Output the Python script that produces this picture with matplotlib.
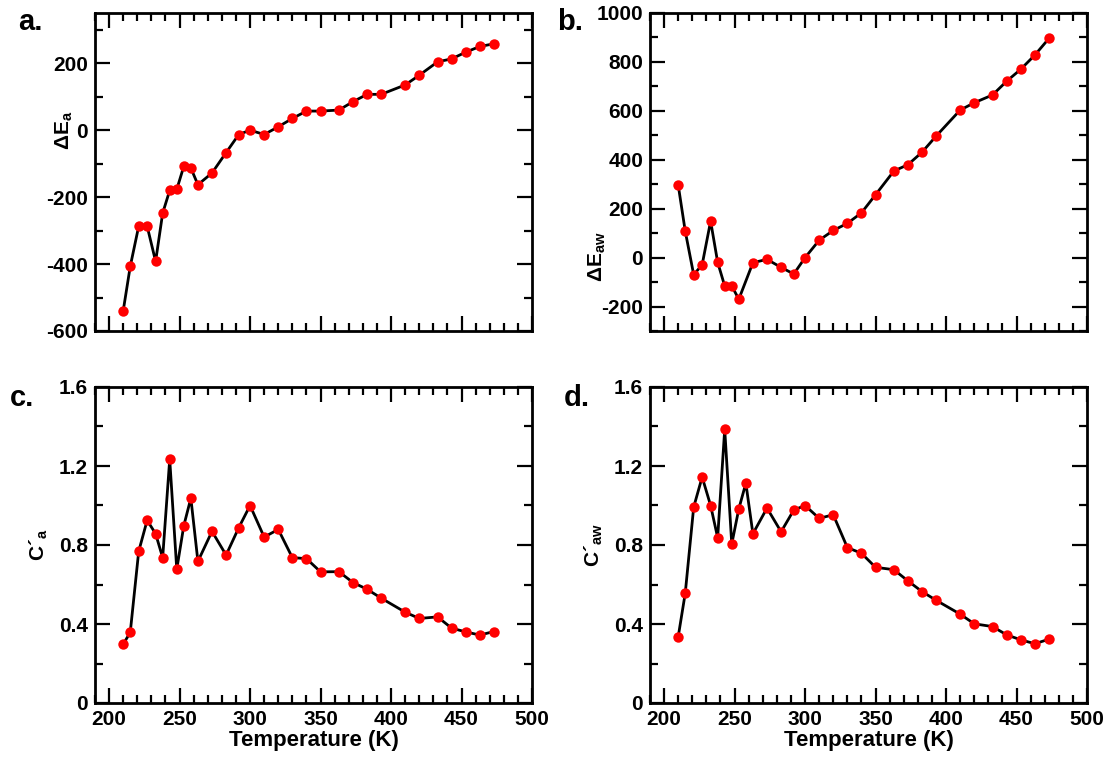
"""
Four-panel plot of activation energy differences and C' versus temperature.
"""
import numpy as np
import matplotlib
matplotlib.use("Agg")
import matplotlib.pyplot as plt
from matplotlib.ticker import MultipleLocator, FixedLocator, FuncFormatter

plt.rcParams['font.family'] = ['Liberation Sans', 'DejaVu Sans']
plt.rcParams['font.weight'] = 'bold'
plt.rcParams['axes.unicode_minus'] = False
plt.rcParams['mathtext.fontset'] = 'custom'
plt.rcParams['mathtext.rm'] = 'Liberation Sans:bold'
plt.rcParams['mathtext.bf'] = 'Liberation Sans:bold'
plt.rcParams['mathtext.it'] = 'Liberation Sans:bold'

# temperatures (K)
temps = [210, 215, 221, 227, 233, 238, 243, 248, 253, 258, 263, 273, 283, 292,
         300, 310, 320, 330, 340, 350, 363, 373, 383, 393, 410, 420, 433, 443,
         453, 463, 473]
# panel b has no point at 258 K
temps_b = [t for t in temps if t != 258]

delta_e_a = [-540, -407, -287, -287, -392, -248, -180, -177, -108, -113, -163,
             -128, -67, -13, 0, -13, 10, 35, 57, 57, 60, 85, 107, 107, 135, 164,
             204, 213, 233, 250, 258]
delta_e_aw = [297, 108, -70, -29, 149, -19, -116, -116, -170, -21, -7, -40, -67,
              0, 71, 111, 140, 183, 257, 354, 380, 431, 497, 603, 633, 665, 721,
              770, 828, 896]
c_a = [0.298, 0.357, 0.768, 0.925, 0.857, 0.736, 1.234, 0.677, 0.898, 1.037,
       0.717, 0.869, 0.749, 0.888, 1.000, 0.840, 0.879, 0.736, 0.731, 0.664,
       0.665, 0.610, 0.576, 0.531, 0.460, 0.428, 0.436, 0.379, 0.360, 0.344,
       0.362]
c_aw = [0.335, 0.556, 0.992, 1.144, 1.000, 0.837, 1.386, 0.805, 0.983, 1.113,
        0.857, 0.987, 0.867, 0.977, 1.000, 0.935, 0.953, 0.787, 0.758, 0.687,
        0.675, 0.618, 0.564, 0.520, 0.450, 0.401, 0.387, 0.345, 0.320, 0.300,
        0.323]

W, H = 1115, 760
fig = plt.figure(figsize=(W / 100, H / 100), dpi=100)


def px_axes(left, top, right, bottom):
    return fig.add_axes([left / W, 1 - bottom / H, (right - left) / W, (bottom - top) / H])


def style_axes(ax, ylim, ymajor, yminor, show_xlabels):
    ax.set_xlim(190, 500)
    ax.set_ylim(*ylim)
    ax.xaxis.set_major_locator(MultipleLocator(50))
    ax.xaxis.set_minor_locator(MultipleLocator(10))
    ax.yaxis.set_major_locator(FixedLocator(ymajor))
    ax.yaxis.set_minor_locator(MultipleLocator(yminor))
    ax.tick_params(which='both', direction='in', top=True, right=True, width=1.6,
                   labelsize=15, pad=5)
    ax.tick_params(which='major', length=10.5)
    ax.tick_params(which='minor', length=5.5)
    for s in ax.spines.values():
        s.set_linewidth(2.0)
    if show_xlabels:
        ax.set_xlabel('Temperature (K)', fontsize=16, fontweight='bold', labelpad=1)
    else:
        ax.tick_params(labelbottom=False)


def draw(ax, x, y):
    ax.plot(x, y, color='black', lw=2.0, solid_joinstyle='miter', zorder=2)
    ax.plot(x, y, 'o', color='red', markersize=7.5, markeredgewidth=0, zorder=3)


ax_a = px_axes(95, 13, 532, 331)
ax_b = px_axes(650, 13, 1087, 331)
ax_c = px_axes(95, 387, 532, 703)
ax_d = px_axes(650, 387, 1087, 703)

draw(ax_a, temps, delta_e_a)
style_axes(ax_a, (-600, 350), [-600, -400, -200, 0, 200], 100, False)
ax_a.set_ylabel(r'$\Delta$E$_{\mathrm{a}}$', fontsize=15)
ax_a.yaxis.set_label_coords(-0.046, 0.63)

draw(ax_b, temps_b, delta_e_aw)
style_axes(ax_b, (-300, 1000), [-200, 0, 200, 400, 600, 800, 1000], 100, False)
ax_b.set_ylabel(r'$\Delta$E$_{\mathrm{aw}}$', fontsize=15)
ax_b.yaxis.set_label_coords(-0.096, 0.235)

c_fmt = FuncFormatter(lambda v, _: '0' if abs(v) < 1e-9 else f'{v:.1f}')

draw(ax_c, temps, c_a)
style_axes(ax_c, (0, 1.6), [0, 0.4, 0.8, 1.2, 1.6], 0.2, True)
ax_c.yaxis.set_major_formatter(c_fmt)
ax_c.set_ylabel('C\u00b4$_{\\mathrm{a}}$', fontsize=15)
ax_c.yaxis.set_label_coords(-0.103, 0.5)

draw(ax_d, temps, c_aw)
style_axes(ax_d, (0, 1.6), [0, 0.4, 0.8, 1.2, 1.6], 0.2, True)
ax_d.yaxis.set_major_formatter(c_fmt)
ax_d.set_ylabel('C\u00b4$_{\\mathrm{aw}}$', fontsize=15)
ax_d.yaxis.set_label_coords(-0.103, 0.5)

for ax in (ax_a, ax_b, ax_c, ax_d):
    for lab in ax.get_xticklabels() + ax.get_yticklabels():
        lab.set_fontweight('bold')
    ax.yaxis.label.set_fontweight('bold')

for letter, (px, py) in zip(['a.', 'b.', 'c.', 'd.'],
                            [(30, 22), (570, 22), (22, 398), (577, 398)]):
    fig.text(px / W, 1 - py / H, letter, fontsize=21, fontweight='bold',
             ha='center', va='center')

fig.savefig('out.png', dpi=100)
